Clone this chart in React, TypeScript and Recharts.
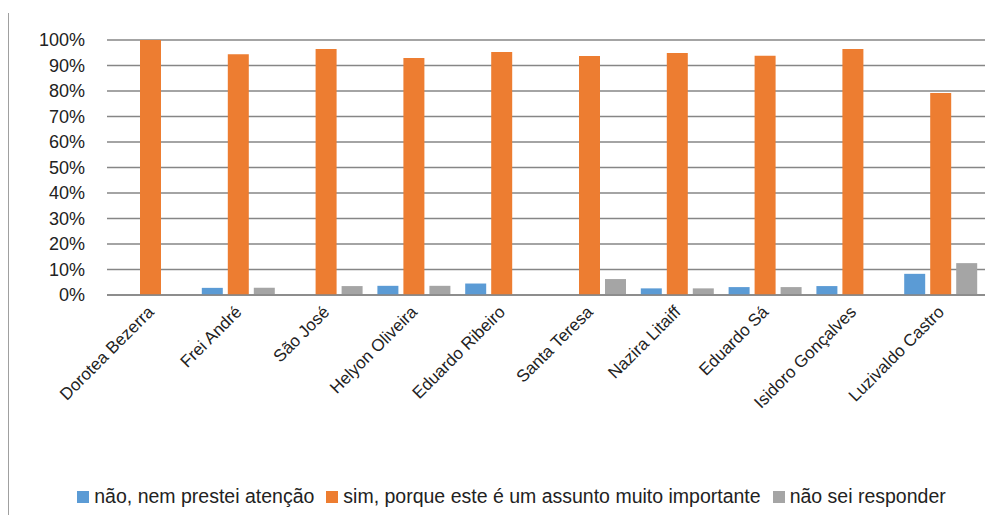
import { BarChart, Bar, XAxis, YAxis, CartesianGrid, Legend } from "recharts";

const bairros = [
  "Dorotea Bezerra",
  "Frei André",
  "São José",
  "Helyon Oliveira",
  "Eduardo Ribeiro",
  "Santa Teresa",
  "Nazira Litaiff",
  "Eduardo Sá",
  "Isidoro Gonçalves",
  "Luzivaldo Castro",
];

const naoPrestei = [0, 2.8, 0, 3.6, 4.5, 0, 2.6, 3.1, 3.5, 8.3];
const simImportante = [100, 94.4, 96.5, 92.9, 95.3, 93.75, 94.9, 93.8, 96.5, 79.2];
const naoSei = [0, 2.8, 3.5, 3.6, 0, 6.25, 2.6, 3.1, 0, 12.5];

const yTicks = [0, 10, 20, 30, 40, 50, 60, 70, 80, 90, 100];

const series = [
  { key: "nao", name: "não, nem prestei atenção", color: "#5b9bd5" },
  { key: "sim", name: "sim, porque este é um assunto muito importante", color: "#ed7d31" },
  { key: "naoSei", name: "não sei responder", color: "#a5a5a5" },
];

const data = bairros.map((name, i) => ({
  name,
  nao: naoPrestei[i],
  sim: simImportante[i],
  naoSei: naoSei[i],
}));

const FONT = "'Liberation Sans', 'DejaVu Sans', sans-serif";

const XTick = ({ x, y, payload }: { x?: number; y?: number; payload?: { value: string } }) => (
  <text
    x={0}
    y={0}
    transform={`translate(${(x ?? 0) + 4},${(y ?? 0) + 10}) rotate(-45)`}
    textAnchor="end"
    fontSize={17}
    fontFamily={FONT}
    fill="#222"
  >
    {payload?.value}
  </text>
);

// fixed order legend (recharts sorts by name otherwise)
const LegendBox = () => (
  <div
    style={{
      display: "flex",
      justifyContent: "center",
      alignItems: "center",
      fontFamily: FONT,
      fontSize: 19.5,
      color: "#222",
      paddingLeft: 50,
    }}
  >
    {series.map((s) => (
      <span key={s.key} style={{ display: "flex", alignItems: "center", marginRight: 12 }}>
        <span style={{ width: 12, height: 12, background: s.color, marginRight: 5, display: "inline-block" }} />
        {s.name}
      </span>
    ))}
  </div>
);

export default function App() {
  return (
    <div style={{ position: "absolute", left: 0, top: 0, width: 999, height: 526, background: "#fff" }}>
      <div
        style={{
          position: "absolute",
          left: 8,
          top: 13,
          height: 502,
          borderLeft: "1px solid #a0a0a0",
        }}
      />
      <BarChart
        width={999}
        height={526}
        data={data}
        margin={{ top: 40, right: 14, left: 0, bottom: 18 }}
        barGap={5}
        barSize={21}
      >
        <CartesianGrid vertical={false} stroke="#868686" strokeWidth={1.3} />
        <XAxis
          dataKey="name"
          interval={0}
          tickLine={false}
          axisLine={{ stroke: "#868686", strokeWidth: 1.3 }}
          height={190}
          tick={<XTick />}
        />
        <YAxis
          domain={[0, 100]}
          ticks={yTicks}
          interval={0}
          width={107}
          axisLine={false}
          tickLine={false}
          tickFormatter={(v: number) => `${v}%`}
          tick={{ fontSize: 18, fontFamily: FONT, fill: "#222", dx: -14 }}
        />
        <Legend verticalAlign="bottom" align="center" content={<LegendBox />} />
        {series.map((s) => (
          <Bar key={s.key} dataKey={s.key} name={s.name} fill={s.color} isAnimationActive={false} />
        ))}
      </BarChart>
    </div>
  );
}
